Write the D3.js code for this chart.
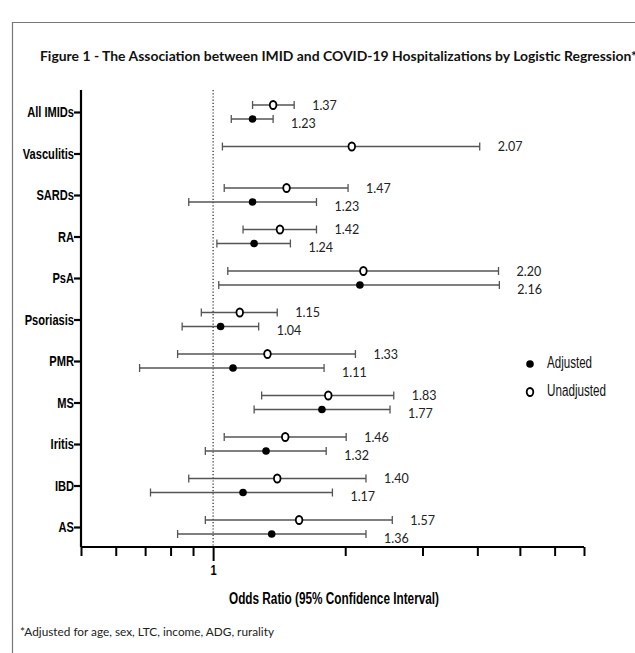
<!DOCTYPE html>
<html>
<head>
<meta charset="utf-8">
<script src="https://cdn.jsdelivr.net/npm/d3@7"></script>
<style>
	body { margin: 0; background: #fff; }
	svg { display: block; }
	.narrow { font-family: 'Liberation Sans', Arial, sans-serif; }
	.cal { font-family: Lato, 'Open Sans', sans-serif; }
</style>
</head>
<body>
<svg id="chart" width="635" height="653"></svg>
<script>
// categories top to bottom
const categories = ['All IMIDs', 'Vasculitis', 'SARDs', 'RA', 'PsA', 'Psoriasis', 'PMR', 'MS', 'Iritis', 'IBD', 'AS'];

// unadjusted odds ratios and 95% CI
const unadjOR = [1.37, 2.07, 1.47, 1.42, 2.20, 1.15, 1.33, 1.83, 1.46, 1.40, 1.57];
const unadjLo = [1.23, 1.05, 1.06, 1.17, 1.08, 0.94, 0.83, 1.29, 1.06, 0.88, 0.96];
const unadjHi = [1.53, 4.05, 2.03, 1.72, 4.47, 1.40, 2.11, 2.58, 2.01, 2.23, 2.56];

// adjusted (no adjusted estimate for vasculitis)
const adjOR = [1.23, null, 1.23, 1.24, 2.16, 1.04, 1.11, 1.77, 1.32, 1.17, 1.36];
const adjLo = [1.10, null, 0.88, 1.02, 1.03, 0.85, 0.68, 1.24, 0.96, 0.72, 0.83];
const adjHi = [1.37, null, 1.72, 1.50, 4.49, 1.27, 1.79, 2.53, 1.81, 1.87, 2.23];

const xTicks = [0.5, 0.6, 0.7, 0.8, 0.9, 1, 2, 3, 4, 5, 6, 7];
const xDomain = [0.5, 7];

const legendLabels = ['Adjusted', 'Unadjusted'];
const titleText = 'Figure 1 - The Association between IMID and COVID-19 Hospitalizations by Logistic Regression*';
const footText = '*Adjusted for age, sex, LTC, income, ADG, rurality';

const svg = d3.select('#chart');
const squeeze = 0.74; // arial narrow look

// frame round the figure
svg.append('path')
	.attr('d', 'M12.5,653 V22.5 H635')
	.attr('fill', 'none')
	.attr('stroke', '#777')
	.attr('stroke-width', 1.2);

const x = d3.scaleLog().domain(xDomain).range([81, 584]);
const y = d3.scalePoint().domain(categories).range([112, 527]);
const axisY = 547;

// title
svg.append('text')
	.attr('class', 'cal')
	.attr('x', 40)
	.attr('y', 61)
	.attr('font-size', 13.5)
	.attr('font-weight', 700)
	.attr('textLength', 597)
	.attr('lengthAdjust', 'spacingAndGlyphs')
	.attr('fill', '#111')
	.text(titleText);

// reference line at OR = 1
svg.append('line')
	.attr('x1', x(1)).attr('x2', x(1))
	.attr('y1', 90).attr('y2', axisY)
	.attr('stroke', '#222')
	.attr('stroke-width', 1.2)
	.attr('stroke-dasharray', '1.2,2');

// y axis
const gy = svg.append('g')
	.attr('transform', 'translate(81,0)')
	.call(d3.axisLeft(y).tickSize(7).tickPadding(1));
gy.select('.domain').attr('d', `M0,90V${axisY}`).attr('stroke-width', 2.2);
gy.selectAll('.tick line').attr('stroke-width', 2.2);
gy.selectAll('.tick text')
	.attr('class', 'narrow')
	.attr('x', -7 / squeeze)
	.attr('transform', `scale(${squeeze},1)`)
	.attr('font-size', 15)
	.attr('font-weight', 700)
	.attr('fill', '#000');

// x axis
const gx = svg.append('g')
	.attr('transform', `translate(0,${axisY})`)
	.call(d3.axisBottom(x).tickValues(xTicks).tickSize(9).tickFormat(d => (d === 1 ? '1' : '')));
gx.select('.domain').attr('d', `M81,0H584`).attr('stroke-width', 2.2);
gx.selectAll('.tick line')
	.attr('stroke-width', 2)
	.attr('y2', d => (d === 1 ? 14 : 9));
gx.selectAll('.tick text')
	.attr('class', 'narrow')
	.attr('y', 17)
	.attr('transform', `scale(${squeeze},1)`)
	.attr('font-size', 15)
	.attr('font-weight', 700)
	.attr('fill', '#000');

// axis title
svg.append('text')
	.attr('class', 'narrow')
	.attr('x', 229)
	.attr('y', 604)
	.attr('font-size', 16)
	.attr('font-weight', 700)
	.attr('textLength', 210)
	.attr('lengthAdjust', 'spacingAndGlyphs')
	.text('Odds Ratio (95% Confidence Interval)');

// build the rows
const rows = [];
categories.forEach((c, i) => {
	rows.push({ cat: c, type: 'unadj', or: unadjOR[i], lo: unadjLo[i], hi: unadjHi[i], dy: -7 });
	if (adjOR[i] !== null) rows.push({ cat: c, type: 'adj', or: adjOR[i], lo: adjLo[i], hi: adjHi[i], dy: 7 });
});

const g = svg.append('g');
const row = g.selectAll('.row')
	.data(rows)
	.enter()
	.append('g')
	.attr('class', 'row')
	.attr('transform', d => `translate(0,${y(d.cat) + d.dy})`);

row.append('line')
	.attr('x1', d => x(d.lo))
	.attr('x2', d => x(d.hi))
	.attr('stroke', '#555')
	.attr('stroke-width', 1.3);

row.selectAll('.cap')
	.data(d => [d.lo, d.hi])
	.enter()
	.append('line')
	.attr('x1', v => x(v)).attr('x2', v => x(v))
	.attr('y1', -4).attr('y2', 4)
	.attr('stroke', '#555')
	.attr('stroke-width', 1.3);

row.filter(d => d.type === 'adj')
	.append('circle')
	.attr('cx', d => x(d.or))
	.attr('r', 3.8)
	.attr('fill', '#000');

row.filter(d => d.type === 'unadj')
	.append('ellipse')
	.attr('cx', d => x(d.or))
	.attr('rx', 3.3)
	.attr('ry', 4)
	.attr('fill', '#fff')
	.attr('stroke', '#000')
	.attr('stroke-width', 1.8);

row.append('text')
	.attr('class', 'cal')
	.attr('x', d => x(d.hi) + 18)
	.attr('y', d => (d.type === 'adj' ? 5.5 : 1.5))
	.attr('dominant-baseline', 'middle')
	.attr('font-size', 12.5)
	.attr('fill', '#222')
	.text(d => d.or.toFixed(2));

// legend
const legend = svg.append('g').attr('transform', 'translate(530,364)');
legend.append('circle').attr('r', 3.8).attr('fill', '#000');
legend.append('ellipse')
	.attr('cy', 28)
	.attr('rx', 3.3).attr('ry', 4)
	.attr('fill', '#fff').attr('stroke', '#000').attr('stroke-width', 1.8);
legend.selectAll('text')
	.data(legendLabels)
	.enter()
	.append('text')
	.attr('class', 'narrow')
	.attr('x', 17)
	.attr('y', (d, i) => i * 28)
	.attr('dominant-baseline', 'middle')
	.attr('font-size', 16)
	.attr('textLength', (d, i) => (i ? 59 : 45))
	.attr('lengthAdjust', 'spacingAndGlyphs')
	.attr('fill', '#111')
	.text(d => d);

// footnote
svg.append('text')
	.attr('class', 'cal')
	.attr('x', 20)
	.attr('y', 636)
	.attr('font-size', 11)
	.attr('textLength', 254)
	.attr('lengthAdjust', 'spacingAndGlyphs')
	.attr('fill', '#222')
	.text(footText);
</script>
</body>
</html>
